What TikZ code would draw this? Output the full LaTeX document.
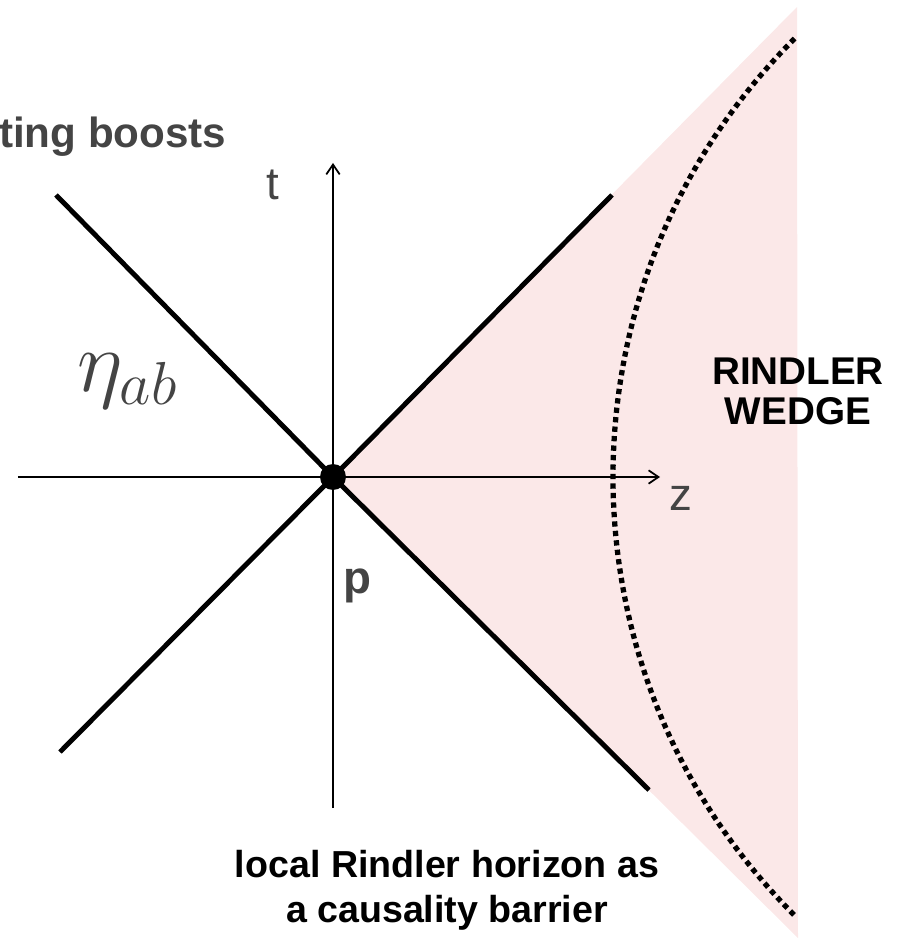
\documentclass[tikz,border=0pt]{standalone}
\usepackage{fontspec}
\setmainfont{Liberation Sans}
\usetikzlibrary{arrows.meta}
\definecolor{wedgepink}{RGB}{251,232,232}
\definecolor{labelgray}{RGB}{68,68,68}

\begin{document}
\begin{tikzpicture}[
  cone/.style={line width=1.4pt},
  axis/.style={line width=0.5pt,-{Straight Barb[length=2.8pt,width=3.8pt]}},
  lbl/.style={text=labelgray,inner sep=0pt}]

\useasboundingbox (-3.33,-4.61) rectangle (5.70,4.77);

\coordinate (p) at (0,0);

% Cuna de Rindler
\fill[wedgepink] (p) -- (4.64,4.70) -- (4.65,-4.61) -- cycle;

% Ejes
\draw[axis] (-3.15,0) -- (3.27,0);
\draw[axis] (0,-3.31) -- (0,3.14);

% Cono de luz
\draw[cone] (-2.77,2.82) -- (p) -- (3.16,-3.13);
\draw[cone] (-2.73,-2.75) -- (p) -- (2.79,2.82);

% Hiperbola
\draw[line width=1.5pt,dash pattern=on 1.5pt off 1.2pt] (4.616,4.384) arc[start angle=135,end angle=225,radius=6.2];

\fill (p) circle(0.13);

\node[lbl] (t) at (-0.60,2.92) {\fontsize{13}{15}\selectfont t};
\node[lbl] (z) at (3.48,-0.21) {\fontsize{13}{15}\selectfont z};
\node[lbl] (plabel) at (0.24,-1.09) {\fontsize{13}{15}\selectfont\bfseries p};
\node[lbl] (eta) at (-2.05,0.96) {\fontsize{23}{27}\selectfont $\eta_{ab}$};
\node[lbl,anchor=base east] (boosts) at (-1.06,3.29) {\fontsize{12}{14}\selectfont\bfseries ting boosts};
\node[align=center,inner sep=0pt,font=\fontsize{11}{11.4}\selectfont\bfseries] (wedge) at (4.65,0.855) {RINDLER\\ WEDGE};
\node[align=center,inner sep=0pt,font=\fontsize{10.7}{12.8}\selectfont\bfseries] (horizon) at (1.14,-4.13) {local Rindler horizon as\\ a causality barrier};

\end{tikzpicture}
\end{document}
